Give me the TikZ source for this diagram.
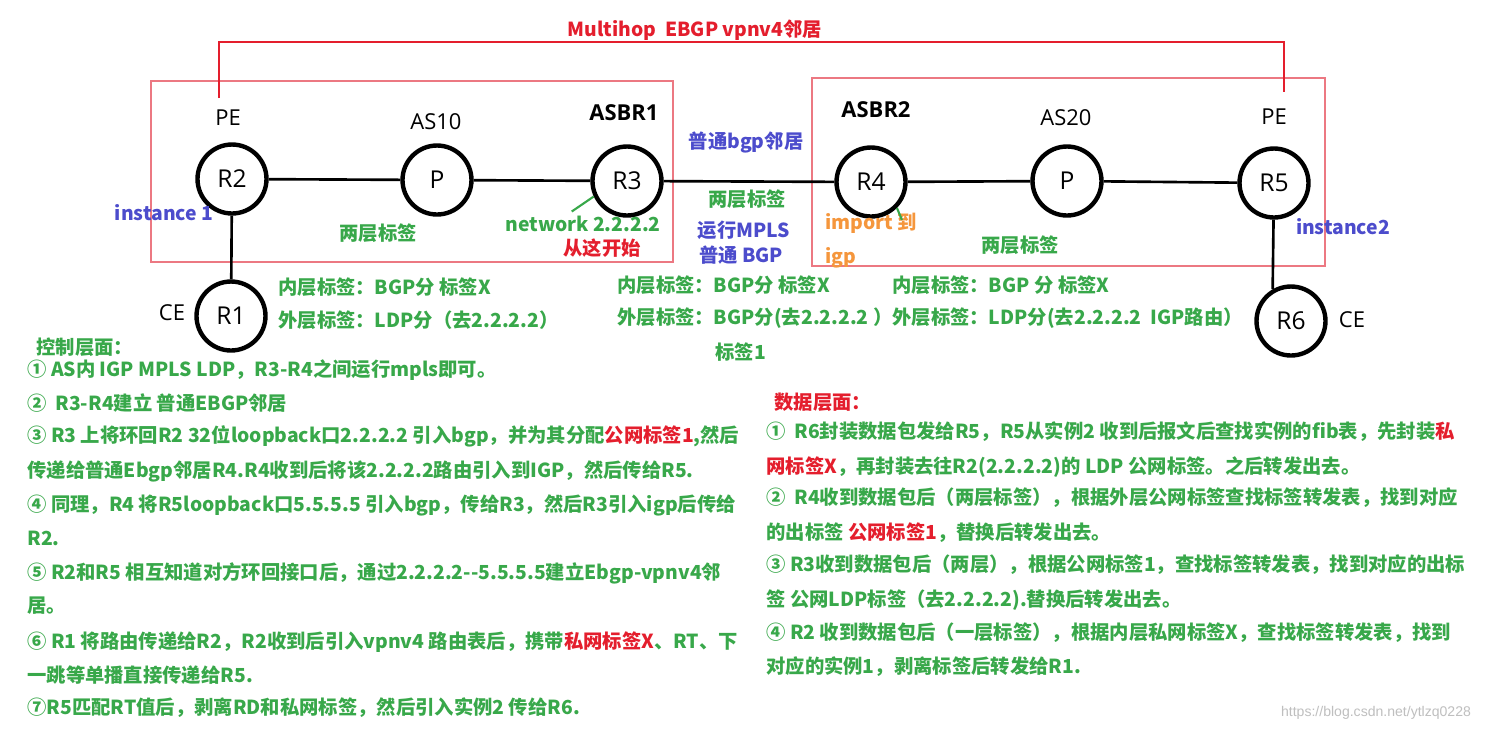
\documentclass[tikz,border=0pt]{standalone}
\usepackage{fontspec}
\setmainfont{Noto Sans CJK SC}
\newfontfamily\labfont{Open Sans}
\newfontfamily\markfont{Liberation Sans}
\definecolor{notegreen}{RGB}{56,168,74}
\definecolor{hotred}{RGB}{228,30,45}
\definecolor{boxred}{RGB}{236,120,130}
\definecolor{nbrblue}{RGB}{76,76,204}
\definecolor{imporange}{RGB}{245,150,60}
\tikzset{
  router/.style={circle,draw,line width=2.5pt,minimum size=1.38cm,inner sep=0pt,
    font=\labfont\fontsize{14}{16}\selectfont},
  link/.style={line width=1.5pt},
  asbox/.style={draw=boxred,line width=0.7pt},
  multihop/.style={draw=hotred,line width=1.3pt},
  pointer/.style={draw=notegreen,line width=1.2pt},
  tag/.style={font=\labfont\fontsize{12.5}{14}\selectfont},
  bigtag/.style={font=\labfont\bfseries\fontsize{12.5}{14}\selectfont},
  note/.style={anchor=west,inner sep=0pt,text=notegreen,font=\bfseries\fontsize{11}{13}\selectfont},
  cnote/.style={note,anchor=center},
  bluenote/.style={cnote,text=nbrblue},
}
\begin{document}
\begin{tikzpicture}[x=0.02cm,y=-0.02cm]
  \fill[white] (0,0) rectangle (1492,731);
  \useasboundingbox (0,0) rectangle (1492,731);

  \draw[asbox] (151,81) rectangle (673,262);
  \draw[asbox] (812,78) rectangle (1325,266);

  \node[router] (R2) at (232,179) {R2};
  \node[router] (P1) at (437,180) {P};
  \node[router] (R3) at (627,181) {R3};
  \node[router] (R4) at (871,182) {R4};
  \node[router] (P2) at (1067,181) {P};
  \node[router] (R5) at (1274,183) {R5};
  \node[router] (R1) at (231,316) {R1};
  \node[router] (R6) at (1291,321) {R6};

  \draw[link] (R2) -- (P1);
  \draw[link] (P1) -- (R3);
  \draw[link] (R3) -- (R4);
  \draw[link] (R4) -- (P2);
  \draw[link] (P2) -- (R5);
  \draw[link] (R2) -- (R1);
  \draw[link] (R5) -- (R6.120);

  \coordinate (mhL) at (219,98);
  \coordinate (mhR) at (1284,92);
  \draw[multihop] (mhL) -- ++(0,-56) -| (mhR);
  \node[cnote,text=hotred] (mhtxt) at (695,30) {Multihop\ \ EBGP vpnv4邻居};

  \node[tag] (pe2) at (228,118) {PE};
  \node[tag] (as10) at (436,122) {AS10};
  \node[bigtag] (asbr1) at (624,113) {ASBR1};
  \node[bigtag] (asbr2) at (876,110) {ASBR2};
  \node[tag] (as20) at (1066,118) {AS20};
  \node[tag] (pe5) at (1274,117) {PE};
  \node[tag] (ce1) at (172,313) {CE};
  \node[tag] (ce6) at (1352,320) {CE};

  \node[bluenote] (inst1) at (164,213) {instance 1};
  \node[bluenote] (inst2) at (1343,227) {instance2};
  \node[bluenote] (nbr) at (746,142) {普通bgp邻居};
  \node[bluenote] (runmpls) at (744,230) {运行MPLS};
  \node[bluenote] (plainbgp) at (741,255) {普通 BGP};

  \node[cnote] (two1) at (378,233) {两层标签};
  \node[cnote] (two2) at (747,199) {两层标签};
  \node[cnote] (two3) at (1020,245) {两层标签};
  \node[cnote] (netw) at (583,224) {network 2.2.2.2};
  \node[cnote,text=hotred] (start) at (602,248) {从这开始};
  \node[note,text=imporange] (imp) at (825,223) {import 到};
  \node[note,text=imporange] (igp) at (825,258) {igp};
  \draw[pointer] (R3.205) -- ++(-22,15);
  \draw[pointer] (R4.-45) -- ++(5,12);

  \node[note] (in1) at (278,287) {内层标签：BGP分 标签X};
  \node[note] (out1) at (278,320) {外层标签：LDP分（去2.2.2.2）};
  \node[note] (in2) at (617,285) {内层标签：BGP分 标签X};
  \node[note] (out2) at (617,318) {外层标签：BGP分(去2.2.2.2 ）};
  \node[note] (lab1) at (715,352) {标签1};
  \node[note] (in3) at (892,285) {内层标签：BGP 分 标签X};
  \node[note] (out3) at (892,318) {外层标签：LDP分(去2.2.2.2\ \ IGP路由）};

  \node[note] (c0) at (36,347) {控制层面：};
  \node[note] (c1) at (27,370) {① AS内 IGP MPLS LDP，R3-R4之间运行mpls即可。};
  \node[note] (c2) at (27,403) {② \ R3-R4建立 普通EBGP邻居};
  \node[note] (c3) at (27,436) {③ R3 上将环回R2 32位loopback口2.2.2.2 引入bgp，并为其分配\textcolor{hotred}{公网标签1},然后};
  \node[note] (c4) at (27,471) {传递给普通Ebgp邻居R4.R4收到后将该2.2.2.2路由引入到IGP，然后传给R5.};
  \node[note] (c5) at (27,505) {④ 同理，R4 将R5loopback口5.5.5.5 引入bgp，传给R3，然后R3引入igp后传给};
  \node[note] (c6) at (27,538) {R2.};
  \node[note] (c7) at (27,573) {⑤ R2和R5 相互知道对方环回接口后，通过2.2.2.2-{}-5.5.5.5建立Ebgp-vpnv4邻};
  \node[note] (c8) at (27,606) {居。};
  \node[note] (c9) at (27,642) {⑥ R1 将路由传递给R2，R2收到后引入vpnv4 路由表后，携带\textcolor{hotred}{私网标签X}、RT、下};
  \node[note] (c10) at (27,675) {一跳等单播直接传递给R5.};
  \node[note] (c11) at (27,708) {⑦R5匹配RT值后，剥离RD和私网标签，然后引入实例2 传给R6.};

  \node[note,text=hotred] (d0) at (774,402) {数据层面：};
  \node[note] (d1) at (766,432) {① \ R6封装数据包发给R5，R5从实例2 收到后报文后查找实例的fib表，先封装\textcolor{hotred}{私}};
  \node[note] (d2) at (766,467) {\textcolor{hotred}{网标签X}，再封装去往R2(2.2.2.2)的 LDP 公网标签。之后转发出去。};
  \node[note] (d3) at (766,498) {② \ R4收到数据包后（两层标签），根据外层公网标签查找标签转发表，找到对应};
  \node[note] (d4) at (766,533) {的出标签 \textcolor{hotred}{公网标签1}，替换后转发出去。};
  \node[note] (d5) at (766,565) {③ R3收到数据包后（两层），根据公网标签1，查找标签转发表，找到对应的出标};
  \node[note] (d6) at (766,600) {签 公网LDP标签（去2.2.2.2).替换后转发出去。};
  \node[note] (d7) at (766,633) {④ R2 收到数据包后（一层标签），根据内层私网标签X，查找标签转发表，找到};
  \node[note] (d8) at (766,667) {对应的实例1，剥离标签后转发给R1.};

  \node[font=\markfont\fontsize{8}{10}\selectfont,text=black!25] (wm) at (1376,713) {https://blog.csdn.net/ytlzq0228};
\end{tikzpicture}
\end{document}
